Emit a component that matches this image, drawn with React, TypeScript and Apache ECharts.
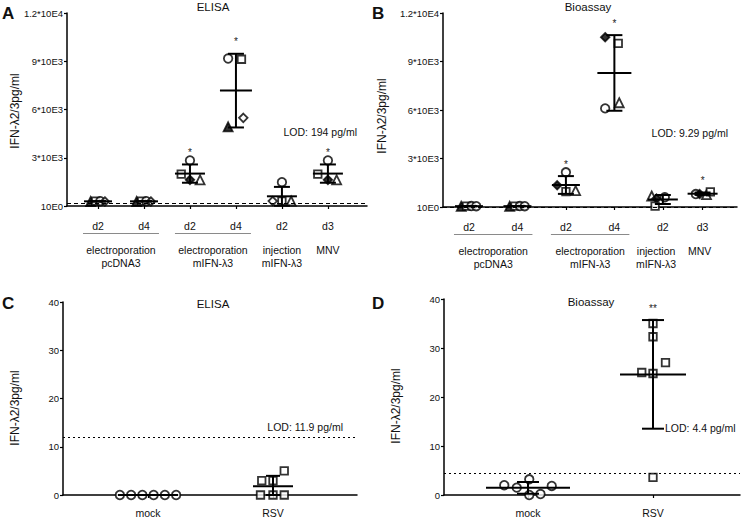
import React, { useEffect, useRef } from "react";
import * as echarts from "echarts";

const FONT = "'Liberation Sans', Arial, Helvetica, sans-serif";
const INK = "#111";

// ---------------- Panel A : ELISA (top) ----------------
const aDayLabels = ["d2", "d4", "d2", "d4", "d2", "d3"];
const aPositions = [1, 2, 3, 4, 5, 6];
const aGroupLabels = ["electroporation\npcDNA3", "electroporation\nmIFN-λ3", "injection\nmIFN-λ3", "MNV"];
const aGroupCenters = [1.5, 3.5, 5, 6];
const aUnderlined = [[0, 1], [2, 3]];
// [group index, horizontal jitter, value, marker]
const aPoints: [number, number, number, string][] = [
  [0, -0.16, 280, "triangleF"], [0, -0.05, 300, "rect"], [0, 0.05, 300, "circle"], [0, 0.15, 280, "diamond"],
  [1, -0.16, 280, "triangleF"], [1, -0.05, 300, "rect"], [1, 0.05, 300, "circle"], [1, 0.15, 280, "diamond"],
  [2, 0, 2830, "circle"], [2, -0.19, 1980, "rect"], [2, 0, 1625, "diamondF"], [2, 0.22, 1625, "triangle"],
  [3, -0.17, 9170, "circle"], [3, 0.12, 9125, "rect"], [3, 0.16, 5480, "diamond"], [3, -0.17, 4920, "triangleF"],
  [4, 0, 1480, "circle"], [4, -0.2, 310, "diamond"], [4, 0, 310, "rect"], [4, 0.2, 310, "triangle"],
  [5, 0, 2830, "circle"], [5, -0.22, 1980, "rect"], [5, 0, 1625, "diamondF"], [5, 0.19, 1625, "triangle"],
];
const aStars = ["", "", "*", "*", "", "*"];
const aLOD = 194;
const aLODText = "LOD: 194 pg/ml";
const aYTickLabels = ["10E0", "3*10E3", "6*10E3", "9*10E3", "1.2*10E4"];

// ---------------- Panel B : Bioassay (top) ----------------
const bDayLabels = ["d2", "d4", "d2", "d4", "d2", "d3"];
const bPositions = [1, 2, 3, 4, 5, 5.82];
const bGroupLabels = ["electroporation\npcDNA3", "electroporation\nmIFN-λ3", "injection\nmIFN-λ3", "MNV"];
const bGroupCenters = [1.5, 3.5, 4.86, 5.76];
const bUnderlined = [[0, 1], [2, 3]];
const bPoints: [number, number, number, string][] = [
  [0, -0.16, 40, "triangleF"], [0, -0.05, 60, "rect"], [0, 0.05, 60, "circle"], [0, 0.15, 50, "circle"],
  [1, -0.16, 40, "triangleF"], [1, -0.05, 60, "rect"], [1, 0.05, 60, "circle"], [1, 0.15, 50, "circle"],
  [2, 0, 2145, "circle"], [2, -0.18, 1340, "diamondF"], [2, 0, 950, "rect"], [2, 0.2, 1010, "triangle"],
  [3, -0.19, 10500, "diamondF"], [3, 0.08, 10120, "rect"], [3, -0.19, 6100, "circle"], [3, 0.1, 6450, "triangle"],
  [4, -0.23, 680, "triangle"], [4, -0.13, 520, "diamondF"], [4, -0.16, 60, "rect"], [4, 0.04, 600, "circle"],
  [5, -0.14, 800, "circle"], [5, -0.06, 800, "diamondF"], [5, 0.08, 760, "triangle"], [5, 0.16, 930, "rect"],
];
const bStars = ["", "", "*", "*", "", "*"];
const bLOD = 9.29;
const bLODText = "LOD: 9.29 pg/ml";
const bYTickLabels = ["10E0", "3*10E3", "6*10E3", "9*10E3", "1.2*10E4"];

// ---------------- Panel C : ELISA (bottom) ----------------
const cLabels = ["mock", "RSV"];
const cPositions = [1, 2];
const cPoints: [number, number, number, string][] = [
  [0, -0.225, 0, "circle"], [0, -0.135, 0, "circle"], [0, -0.045, 0, "circle"],
  [0, 0.045, 0, "circle"], [0, 0.135, 0, "circle"], [0, 0.225, 0, "circle"],
  [1, -0.1, 0, "rect"], [1, 0, 0, "rect"], [1, 0.09, 0, "rect"],
  [1, -0.09, 3, "rect"], [1, 0, 3, "rect"], [1, 0.09, 5, "rect"],
];
const cStars = ["", ""];
const cLOD = 11.9;
const cLODText = "LOD: 11.9 pg/ml";

// ---------------- Panel D : Bioassay (bottom) ----------------
const dLabels = ["mock", "RSV"];
const dPositions = [1, 2];
const dPoints: [number, number, number, string][] = [
  [0, -0.19, 2.0, "circle"], [0, -0.09, 1.5, "circle"], [0, 0.01, 3.2, "circle"],
  [0, 0.01, 0, "circle"], [0, 0.1, 0.2, "circle"], [0, 0.19, 1.85, "circle"],
  [1, 0, 35.0, "rect"], [1, 0, 32.3, "rect"], [1, 0.1, 27.0, "rect"],
  [1, -0.09, 25.0, "rect"], [1, 0, 24.8, "rect"], [1, 0, 3.6, "rect"],
];
const dStars = ["", "**"];
const dLOD = 4.4;
const dLODText = "LOD: 4.4 pg/ml";

const yAxisTitle = "IFN-λ2/3pg/ml";

// ---------------- layout / style (not data) ----------------
type Panel = {
  grid: { left: number; top: number; width: number; height: number };
  xMin: number; xMax: number;
  positions: number[]; tickLabels: string[];
  groupCenters?: number[]; groupLabels?: string[]; underlined?: number[][];
  points: [number, number, number, string][];
  stars: string[]; lod: number; lodDash: number[];
  yMax: number; yInterval: number; yLabels?: string[];
  meanHalf: number[]; capHalf: number;
  labelMargin: number;
};

const panels: Panel[] = [
  {
    grid: { left: 67, top: 13, width: 300, height: 193 }, xMin: 0.326, xMax: 6.85,
    positions: aPositions, tickLabels: aDayLabels, groupCenters: aGroupCenters, groupLabels: aGroupLabels,
    underlined: aUnderlined, points: aPoints, stars: aStars, lod: aLOD, lodDash: [4, 3],
    yMax: 12000, yInterval: 3000, yLabels: aYTickLabels, meanHalf: [14, 14, 15, 16, 15, 15], capHalf: 8, labelMargin: 14,
  },
  {
    grid: { left: 443, top: 13, width: 294, height: 194 }, xMin: 0.464, xMax: 6.53,
    positions: bPositions, tickLabels: bDayLabels, groupCenters: bGroupCenters, groupLabels: bGroupLabels,
    underlined: bUnderlined, points: bPoints, stars: bStars, lod: bLOD, lodDash: [4, 3],
    yMax: 12000, yInterval: 3000, yLabels: bYTickLabels, meanHalf: [14, 14, 14, 17, 15, 15], capHalf: 8, labelMargin: 14,
  },
  {
    grid: { left: 63, top: 302, width: 294, height: 193 }, xMin: 0.32, xMax: 2.672,
    positions: cPositions, tickLabels: cLabels, points: cPoints, stars: cStars, lod: cLOD, lodDash: [2, 3],
    yMax: 40, yInterval: 10, meanHalf: [30, 20], capHalf: 7, labelMargin: 12,
  },
  {
    grid: { left: 444, top: 299, width: 296, height: 196 }, xMin: 0.328, xMax: 2.696,
    positions: dPositions, tickLabels: dLabels, points: dPoints, stars: dStars, lod: dLOD, lodDash: [2, 3],
    yMax: 40, yInterval: 10, meanHalf: [42, 33], capHalf: 11, labelMargin: 12,
  },
];

function findIdx(arr: number[], v: number) {
  for (let i = 0; i < arr.length; i++) if (Math.abs(arr[i] - v) < 1e-6) return i;
  return -1;
}

function groupStats(points: [number, number, number, string][], n: number) {
  const out: { mean: number; sd: number }[] = [];
  for (let g = 0; g < n; g++) {
    const vals = points.filter((p) => p[0] === g).map((p) => p[2]);
    const k = vals.length;
    const mean = vals.reduce((a, b) => a + b, 0) / k;
    const sd = k > 1 ? Math.sqrt(vals.reduce((a, b) => a + (b - mean) * (b - mean), 0) / (k - 1)) : 0;
    out.push({ mean, sd });
  }
  return out;
}

function markerStyle(m: string) {
  const filled = m.endsWith("F");
  const base = filled ? m.slice(0, -1) : m;
  const size = base === "circle" ? 8.5 : base === "rect" ? 7.5 : base === "triangle" ? 9 : 8.5;
  return {
    symbol: base,
    symbolSize: size,
    itemStyle: { color: filled ? "#000" : "#fff", borderColor: "#000", borderWidth: 1.8 },
  };
}

function buildOption() {
  const grid: any[] = [];
  const xAxis: any[] = [];
  const yAxis: any[] = [];
  const series: any[] = [];

  panels.forEach((p, gi) => {
    grid.push({ ...p.grid, containLabel: false, outerBoundsMode: "none" });
    const xi = xAxis.length;
    xAxis.push({
      type: "value", gridIndex: gi, min: p.xMin, max: p.xMax, position: "bottom",
      axisLine: { show: true, onZero: false, lineStyle: { color: "#000", width: 1.5 } },
      axisTick: { show: true, customValues: p.positions, length: 3, lineStyle: { color: "#000", width: 1.2 } },
      axisLabel: {
        show: true, customValues: p.positions, margin: p.labelMargin,
        formatter: (v: number) => p.tickLabels[findIdx(p.positions, v)] ?? "",
        fontSize: 10.5, color: INK, fontFamily: FONT,
      },
      splitLine: { show: false },
    });
    if (p.groupLabels && p.groupCenters) {
      const gc = p.groupCenters, gl = p.groupLabels;
      xAxis.push({
        type: "value", gridIndex: gi, min: p.xMin, max: p.xMax, position: "bottom",
        axisLine: { show: false }, axisTick: { show: false }, splitLine: { show: false },
        axisLabel: {
          show: true, customValues: gc, margin: 37,
          formatter: (v: number) => gl[findIdx(gc, v)] ?? "",
          fontSize: 10.5, lineHeight: 13.5, color: INK, fontFamily: FONT,
        },
      });
    }
    const yl = p.yLabels;
    yAxis.push({
      type: "value", gridIndex: gi, min: 0, max: p.yMax, interval: p.yInterval,
      axisLine: { show: true, onZero: false, lineStyle: { color: "#000", width: 1.5 } },
      axisTick: { show: true, length: 3, lineStyle: { color: "#000", width: 1.2 } },
      axisLabel: {
        margin: 4, fontSize: 9.5, color: INK, fontFamily: FONT,
        formatter: (v: number) => (yl ? yl[Math.round(v / p.yInterval)] : String(v)),
      },
      splitLine: { show: false },
    });

    const stats = groupStats(p.points, p.positions.length);

    series.push({
      type: "scatter", xAxisIndex: xi, yAxisIndex: gi, z: 2, silent: true, color: "#000",
      data: p.points.map((pt) => ({ value: [p.positions[pt[0]] + pt[1], pt[2]], ...markerStyle(pt[3]) })),
      markLine: {
        silent: true, symbol: "none", label: { show: false }, animation: false,
        lineStyle: { color: "#000", width: 1.2, type: p.lodDash },
        data: [{ yAxis: p.lod }],
      },
    });

    const meanHalf = p.meanHalf, capHalf = p.capHalf, stars = p.stars;
    series.push({
      type: "custom", xAxisIndex: xi, yAxisIndex: gi, z: 3, silent: true,
      color: "#000", colorBy: "series", itemStyle: { color: "#000" },
      data: stats.map((s, i) => [p.positions[i], s.mean, s.sd]),
      encode: { x: 0, y: 1 },
      renderItem: (params: any, api: any) => {
        const i = params.dataIndex;
        const x = api.value(0), m = api.value(1), sd = api.value(2);
        const c = api.coord([x, m]);
        const t = api.coord([x, m + sd]);
        const b = api.coord([x, Math.max(m - sd, 0)]);
        const st = { stroke: "#000", lineWidth: 2 };
        const children: any[] = [
          { type: "line", shape: { x1: c[0], y1: t[1], x2: c[0], y2: b[1] }, style: st },
          { type: "line", shape: { x1: c[0] - meanHalf[i], y1: c[1], x2: c[0] + meanHalf[i], y2: c[1] }, style: st },
          { type: "line", shape: { x1: c[0] - capHalf, y1: t[1], x2: c[0] + capHalf, y2: t[1] }, style: st },
          { type: "line", shape: { x1: c[0] - capHalf, y1: b[1], x2: c[0] + capHalf, y2: b[1] }, style: st },
        ];
        if (stars[i]) {
          children.push({
            type: "text", x: c[0], y: t[1] - 12,
            style: { text: stars[i], align: "center", verticalAlign: "middle", fontSize: 10, fontFamily: FONT, fill: "#222", stroke: "none" },
          });
        }
        return { type: "group", children };
      },
    });

    if (p.underlined) {
      series.push({
        type: "custom", xAxisIndex: xi, yAxisIndex: gi, z: 1, silent: true, color: "#8a8a8a",
        data: p.underlined.map(([a, b]) => [p.positions[a], p.positions[b]]),
        encode: { x: [0, 1] },
        renderItem: (params: any, api: any) => {
          const a = api.coord([api.value(0), 0]);
          const b = api.coord([api.value(1), 0]);
          return {
            type: "line",
            shape: { x1: a[0] - 15, y1: a[1] + 27.5, x2: b[0] + 15, y2: a[1] + 27.5 },
            style: { stroke: "#8a8a8a", lineWidth: 1 },
          };
        },
      });
    }
  });

  const txt = (text: string, x: number, y: number, o: any = {}) => ({
    type: "text", x, y, silent: true, rotation: o.rotation || 0,
    style: {
      text, fontFamily: FONT, fontSize: o.size || 11, fontWeight: o.bold ? "bold" : "normal",
      fill: INK, align: o.align || "center", verticalAlign: "middle",
    },
  });

  const graphic = [
    txt("A", 2, 13, { size: 17, bold: true, align: "left" }),
    txt("B", 372, 13, { size: 17, bold: true, align: "left" }),
    txt("C", 2, 303, { size: 17, bold: true, align: "left" }),
    txt("D", 372, 303, { size: 17, bold: true, align: "left" }),
    txt("ELISA", 213, 7, { size: 11.5 }),
    txt("Bioassay", 588, 7, { size: 11.5 }),
    txt("ELISA", 213, 304, { size: 11.5 }),
    txt("Bioassay", 591, 302, { size: 11.5 }),
    txt(yAxisTitle, 15, 111, { size: 12, rotation: Math.PI / 2 }),
    txt(yAxisTitle, 382, 116, { size: 12, rotation: Math.PI / 2 }),
    txt(yAxisTitle, 15, 408, { size: 12, rotation: Math.PI / 2 }),
    txt(yAxisTitle, 396, 406, { size: 12, rotation: Math.PI / 2 }),
    txt(aLODText, 357, 132, { size: 10.5, align: "right" }),
    txt(bLODText, 728, 133, { size: 10.5, align: "right" }),
    txt(cLODText, 343, 427, { size: 10.5, align: "right" }),
    txt(dLODText, 665, 428, { size: 10.5, align: "left" }),
  ];

  return {
    animation: false,
    backgroundColor: "#fff",
    color: ["#000"],
    textStyle: { fontFamily: FONT },
    grid, xAxis, yAxis, series, graphic,
  };
}

export default function App() {
  const ref = useRef<HTMLDivElement>(null);
  useEffect(() => {
    const chart = echarts.init(ref.current!, null, { renderer: "svg" });
    chart.setOption(buildOption() as any);
    return () => chart.dispose();
  }, []);
  return (
    <div
      ref={ref}
      style={{ position: "fixed", left: 0, top: 0, width: 741, height: 518, background: "#fff" }}
    />
  );
}
